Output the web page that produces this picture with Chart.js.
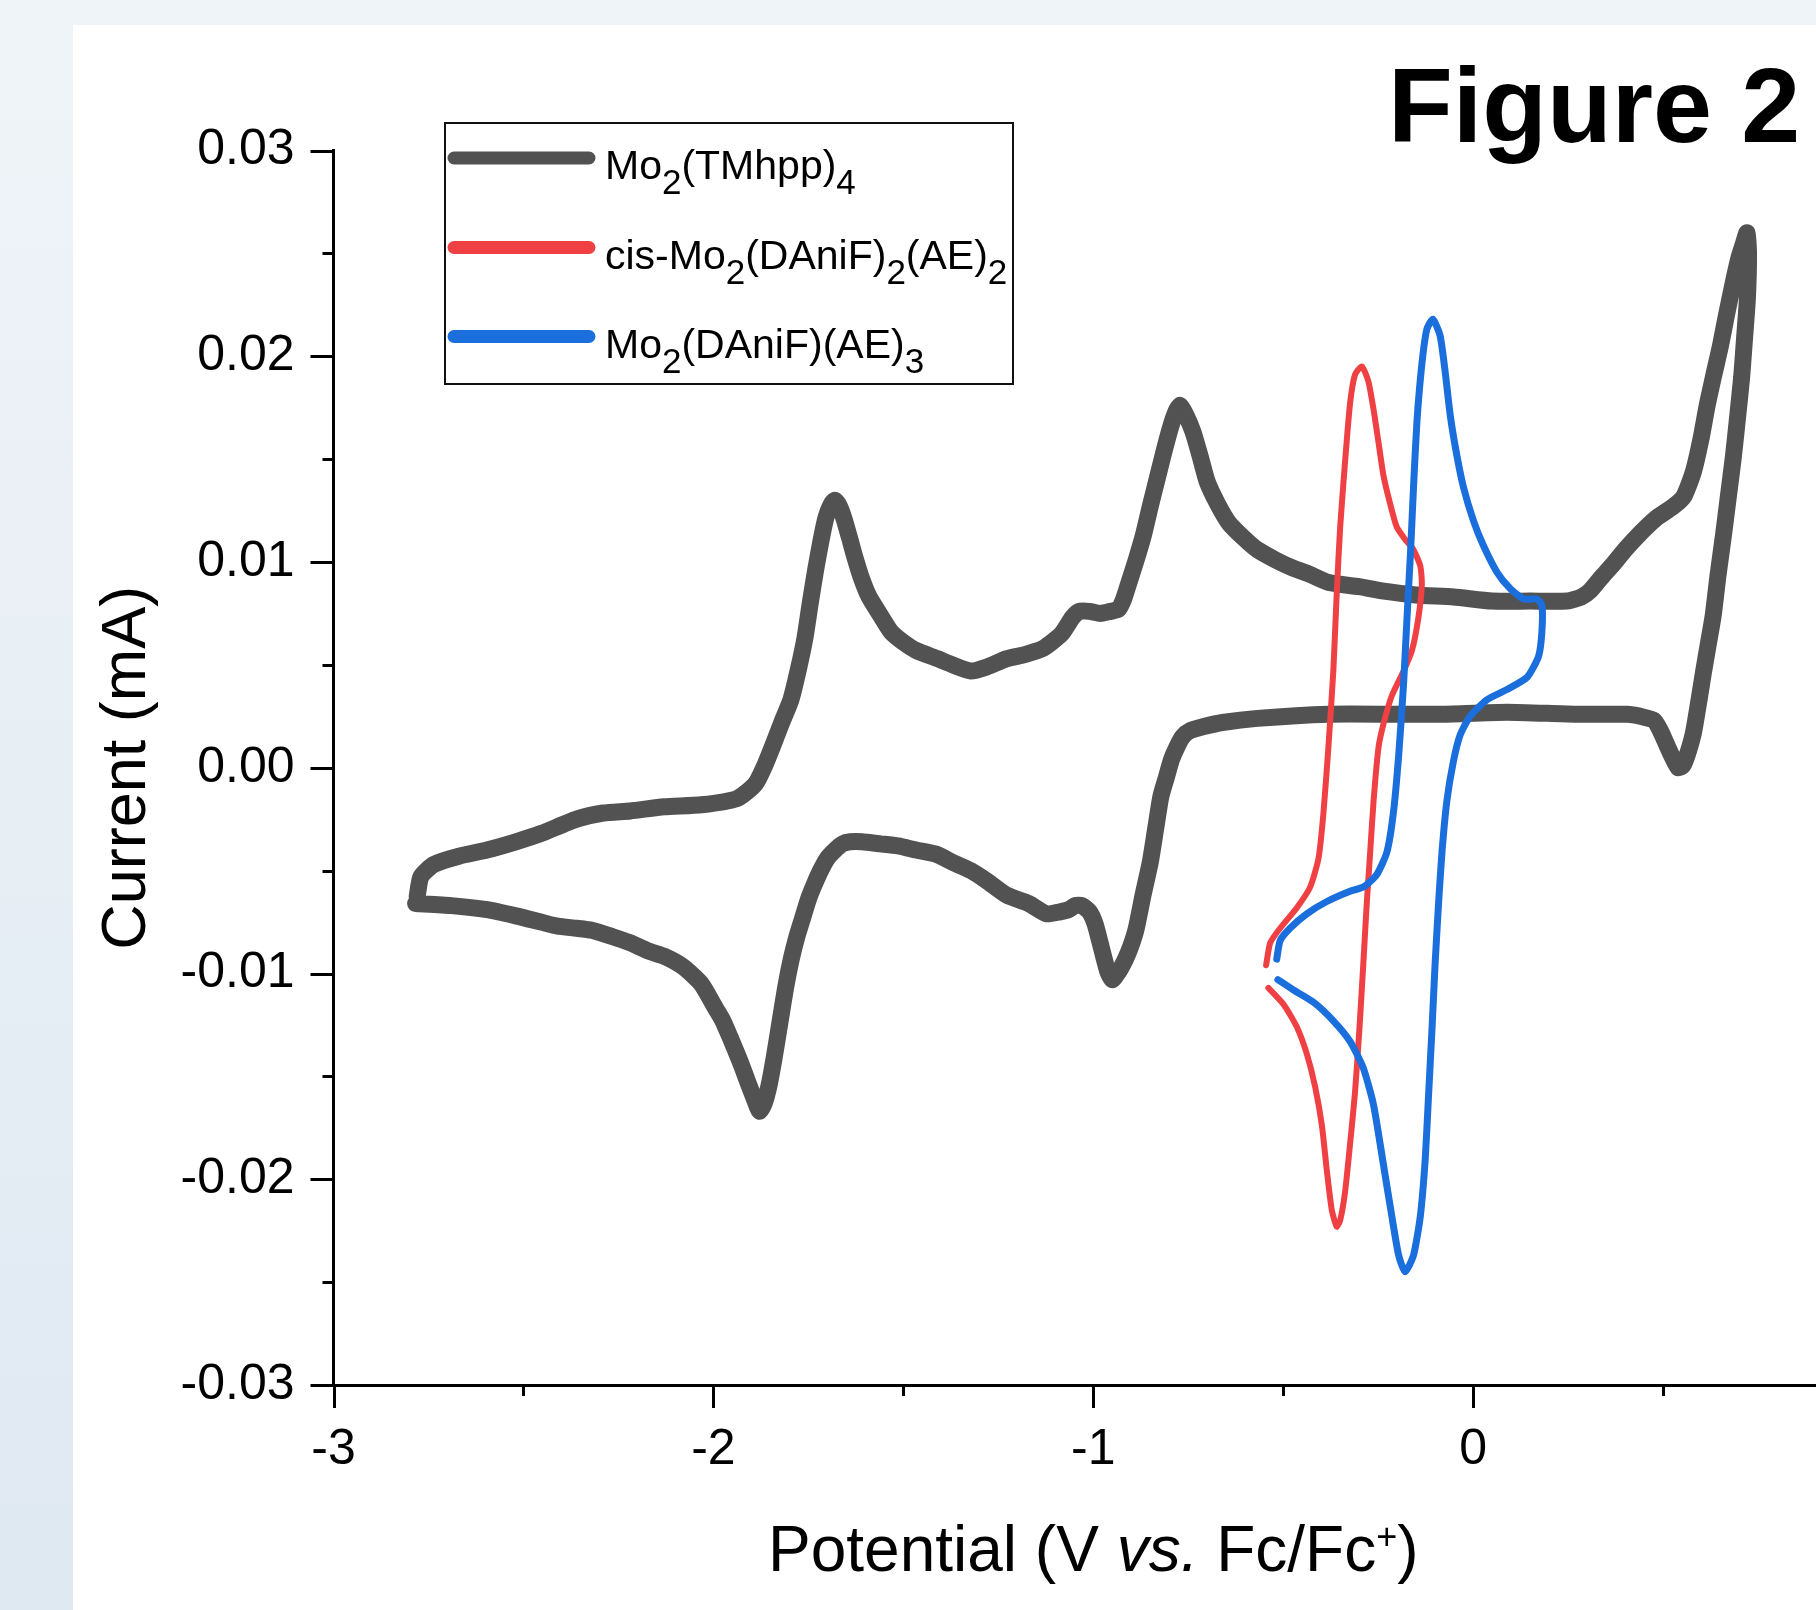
<!DOCTYPE html>
<html>
<head>
<meta charset="utf-8">
<title>Figure 2 — cyclic voltammograms</title>
<script src="https://cdn.jsdelivr.net/npm/chart.js@4.4.1/dist/chart.umd.min.js"></script>
<style>
  html, body { margin: 0; padding: 0; }
  body {
    width: 1816px; height: 1610px; overflow: hidden; position: relative;
    background: linear-gradient(180deg, #eff4f8 0%, #dfe9f2 100%);
    font-family: "Liberation Sans", Arial, sans-serif;
  }
  #panel { position: absolute; left: 73px; top: 25px; width: 1743px; height: 1585px; background: #fff; overflow: hidden; }
  #cv { position: absolute; left: 0; top: 0; display: block; width: 1800px; height: 1585px; }
  #fig { position: absolute; left: 1315px; top: 27px; font: bold 106px/1 "Liberation Sans", Arial, sans-serif; color: #000; white-space: nowrap; }
</style>
</head>
<body>
<div id="panel">
  <canvas id="cv" width="1800" height="1585"></canvas>
  <div id="fig">Figure 2</div>
</div>
<script>
// ── Data: [potential (V vs Fc/Fc+), current (mA)] ─────────────
const grayForward = [
  [-2.780,-0.0063],[-2.770,-0.0053],[-2.736,-0.0047],[-2.670,-0.0043],[-2.596,-0.0040],[-2.520,-0.0036],
  [-2.454,-0.0032],[-2.360,-0.0025],[-2.290,-0.0022],[-2.219,-0.0021],[-2.130,-0.0019],[-2.031,-0.0018],
  [-1.938,-0.0015],[-1.890,-0.0008],[-1.865,0.0001],[-1.843,0.0011],[-1.820,0.0022],[-1.796,0.0033],
  [-1.776,0.0048],[-1.759,0.0063],[-1.745,0.0080],[-1.730,0.0097],[-1.715,0.0112],[-1.703,0.0122],
  [-1.690,0.0128],[-1.680,0.0130],[-1.668,0.0127],[-1.656,0.0121],[-1.642,0.0112],[-1.627,0.0102],
  [-1.610,0.0092],[-1.590,0.0083],[-1.560,0.0074],[-1.532,0.0066],[-1.500,0.0061],[-1.466,0.0057],
  [-1.410,0.0053],[-1.370,0.0050],[-1.322,0.0047],[-1.280,0.0049],[-1.227,0.0053],[-1.180,0.0055],
  [-1.132,0.0058],[-1.084,0.0065],[-1.055,0.0073],[-1.038,0.0076],[-1.010,0.0076],[-0.982,0.0075],
  [-0.955,0.0076],[-0.934,0.0077],[-0.920,0.0082],[-0.906,0.0090],[-0.887,0.0101],[-0.868,0.0113],
  [-0.850,0.0127],[-0.831,0.0141],[-0.812,0.0155],[-0.794,0.0167],[-0.780,0.0174],[-0.771,0.0176],
  [-0.755,0.0171],[-0.737,0.0163],[-0.718,0.0151],[-0.700,0.0139],[-0.672,0.0128],[-0.643,0.0119],
  [-0.600,0.0111],[-0.568,0.0106],[-0.520,0.0101],[-0.474,0.0097],[-0.430,0.0094],[-0.380,0.0090],
  [-0.300,0.0088],[-0.240,0.0086],[-0.150,0.0084],[-0.051,0.0083],[0.050,0.0081],[0.150,0.0081],
  [0.247,0.0081],[0.285,0.0083],[0.308,0.0086],[0.340,0.0093],[0.369,0.0099],[0.400,0.0106],
  [0.440,0.0114],[0.480,0.0121],[0.527,0.0127],[0.555,0.0132],[0.580,0.0144],[0.600,0.0160],
  [0.616,0.0176],[0.635,0.0192],[0.651,0.0205],[0.668,0.0221],[0.685,0.0236],[0.700,0.0248],
  [0.712,0.0255],[0.721,0.0260]
];
const grayReverse = [
  [0.725,0.0250],[0.722,0.0228],[0.715,0.0210],[0.707,0.0190],[0.696,0.0170],[0.685,0.0151],
  [0.672,0.0132],[0.659,0.0113],[0.645,0.0094],[0.632,0.0074],[0.619,0.0060],[0.606,0.0046],
  [0.593,0.0031],[0.580,0.0017],[0.565,0.0007],[0.552,0.0001],[0.540,0.0000],[0.525,0.0005],
  [0.510,0.0011],[0.493,0.0018],[0.476,0.0023],[0.440,0.0025],[0.406,0.0026],[0.266,0.0026],
  [0.090,0.0027],[-0.088,0.0026],[-0.200,0.0026],[-0.380,0.0026],[-0.568,0.0024],[-0.660,0.0022],
  [-0.709,0.0020],[-0.745,0.0018],[-0.765,0.0015],[-0.780,0.0010],[-0.794,0.0004],[-0.808,-0.0005],
  [-0.822,-0.0014],[-0.836,-0.0030],[-0.850,-0.0046],[-0.869,-0.0062],[-0.888,-0.0079],[-0.908,-0.0090],
  [-0.926,-0.0097],[-0.940,-0.0101],[-0.950,-0.0103],[-0.962,-0.0099],[-0.982,-0.0085],[-0.995,-0.0076],
  [-1.010,-0.0070],[-1.030,-0.0067],[-1.048,-0.0067],[-1.065,-0.0069],[-1.087,-0.0070],[-1.123,-0.0071],
  [-1.170,-0.0066],[-1.227,-0.0062],[-1.280,-0.0055],[-1.322,-0.0050],[-1.370,-0.0046],[-1.414,-0.0042],
  [-1.466,-0.0040],[-1.514,-0.0038],[-1.560,-0.0037],[-1.609,-0.0036],[-1.640,-0.0036],[-1.660,-0.0037],
  [-1.680,-0.0040],[-1.700,-0.0044],[-1.718,-0.0050],[-1.735,-0.0057],[-1.750,-0.0064],[-1.765,-0.0073],
  [-1.780,-0.0082],[-1.795,-0.0093],[-1.810,-0.0107],[-1.825,-0.0124],[-1.840,-0.0141],[-1.853,-0.0154],
  [-1.866,-0.0163],[-1.878,-0.0167],[-1.890,-0.0162],[-1.909,-0.0153],[-1.925,-0.0145],[-1.938,-0.0139],
  [-1.956,-0.0131],[-1.975,-0.0123],[-1.994,-0.0117],[-2.032,-0.0105],[-2.078,-0.0097],[-2.125,-0.0092],
  [-2.172,-0.0089],[-2.220,-0.0085],[-2.267,-0.0082],[-2.320,-0.0079],[-2.360,-0.0078],[-2.410,-0.0077],
  [-2.454,-0.0075],[-2.520,-0.0072],[-2.596,-0.0069],[-2.690,-0.0067],[-2.784,-0.0066]
];
const redForward = [
  [-0.545,-0.0096],[-0.534,-0.0085],[-0.508,-0.0078],[-0.464,-0.0068],[-0.429,-0.0058],[-0.407,-0.0044],
  [-0.394,-0.0022],[-0.381,0.0010],[-0.368,0.0047],[-0.359,0.0085],[-0.350,0.0117],[-0.337,0.0149],
  [-0.324,0.0177],[-0.311,0.0191],[-0.293,0.0195],[-0.276,0.0188],[-0.262,0.0174],[-0.249,0.0158],
  [-0.236,0.0142],[-0.218,0.0128],[-0.201,0.0117],[-0.179,0.0111],[-0.157,0.0106],[-0.139,0.0098],
  [-0.135,0.0089]
];
const redReverse = [
  [-0.144,0.0073],[-0.161,0.0057],[-0.183,0.0047],[-0.214,0.0035],[-0.235,0.0022],[-0.249,0.0010],
  [-0.262,-0.0016],[-0.271,-0.0041],[-0.280,-0.0066],[-0.289,-0.0095],[-0.299,-0.0126],[-0.311,-0.0158],
  [-0.324,-0.0183],[-0.337,-0.0206],[-0.350,-0.0220],[-0.359,-0.0223],[-0.372,-0.0215],[-0.385,-0.0196],
  [-0.398,-0.0174],[-0.416,-0.0155],[-0.438,-0.0139],[-0.464,-0.0126],[-0.499,-0.0115],[-0.539,-0.0107]
];
const blueForward = [
  [-0.517,-0.0093],[-0.508,-0.0084],[-0.482,-0.0078],[-0.438,-0.0071],[-0.385,-0.0065],[-0.324,-0.0060],
  [-0.289,-0.0058],[-0.254,-0.0052],[-0.227,-0.0041],[-0.210,-0.0022],[-0.196,0.0006],[-0.183,0.0041],
  [-0.174,0.0073],[-0.165,0.0104],[-0.157,0.0136],[-0.148,0.0168],[-0.135,0.0196],[-0.122,0.0213],
  [-0.106,0.0218],[-0.087,0.0210],[-0.074,0.0193],[-0.060,0.0171],[-0.043,0.0152],[-0.025,0.0136],
  [0.001,0.0120],[0.027,0.0108],[0.063,0.0095],[0.098,0.0087],[0.133,0.0082],[0.168,0.0082],
  [0.181,0.0079]
];
const blueReverse = [
  [0.181,0.0066],[0.172,0.0054],[0.142,0.0044],[0.089,0.0038],[0.036,0.0033],[-0.008,0.0025],
  [-0.034,0.0016],[-0.052,0.0003],[-0.069,-0.0016],[-0.082,-0.0041],[-0.091,-0.0066],[-0.100,-0.0095],
  [-0.108,-0.0126],[-0.117,-0.0158],[-0.126,-0.0190],[-0.139,-0.0218],[-0.157,-0.0237],[-0.179,-0.0245],
  [-0.196,-0.0237],[-0.214,-0.0218],[-0.236,-0.0193],[-0.262,-0.0164],[-0.289,-0.0146],[-0.324,-0.0133],
  [-0.368,-0.0123],[-0.420,-0.0114],[-0.473,-0.0108],[-0.514,-0.0103]
];

// legend text: [text, isSubscript]
const grayName = [["Mo",0],["2",1],["(TMhpp)",0],["4",1]];
const redName  = [["cis-Mo",0],["2",1],["(DAniF)",0],["2",1],["(AE)",0],["2",1]];
const blueName = [["Mo",0],["2",1],["(DAniF)(AE)",0],["3",1]];
const xTitle   = [["Potential (V ",""],["vs.","italic"],[" Fc/Fc",""],["+","sup"],[")",""]];

const FONT = '"Liberation Sans", Arial, sans-serif';
const toPts = arr => arr.map(p => ({ x: p[0], y: p[1] }));

function isCent(v) { return Math.abs(v * 100 - Math.round(v * 100)) < 1e-6; }

// ── Tick marks: long on labelled values, short in between ──────
const tickMarks = {
  id: "tickMarks",
  afterDraw(chart) {
    const { ctx, chartArea: a, scales: { x, y } } = chart;
    ctx.save();
    ctx.strokeStyle = "#000";
    ctx.lineWidth = 3;
    ctx.beginPath();
    x.ticks.forEach(t => {
      const px = Math.round(x.getPixelForValue(t.value)) + 0.5;
      const len = Number.isInteger(t.value) ? 23 : 11;
      ctx.moveTo(px, a.bottom); ctx.lineTo(px, a.bottom + len);
    });
    y.ticks.forEach(t => {
      const py = Math.round(y.getPixelForValue(t.value)) + 0.5;
      const len = isCent(t.value) ? 23 : 11;
      ctx.moveTo(a.left, py); ctx.lineTo(a.left - len, py);
    });
    ctx.stroke();
    ctx.restore();
  }
};

function drawRich(ctx, parts, x, y, size, subSize) {
  parts.forEach(([t, sub]) => {
    ctx.font = (sub ? subSize : size) + "px " + FONT;
    ctx.fillText(t, x, y + (sub ? 15 : 0));
    x += ctx.measureText(t).width;
  });
}

// ── Framed legend with subscripts ──────────────────────────────
const legendBox = {
  id: "legendBox",
  afterDraw(chart) {
    const { ctx } = chart;
    const box = { x: 372, y: 98, w: 568, h: 261 };
    ctx.save();
    ctx.fillStyle = "#fff";
    ctx.fillRect(box.x, box.y, box.w, box.h);
    ctx.strokeStyle = "#111";
    ctx.lineWidth = 2;
    ctx.strokeRect(box.x, box.y, box.w, box.h);
    const rows = [grayName, redName, blueName];
    const rowY = [133, 222.5, 311.5];
    rows.forEach((parts, i) => {
      const ds = chart.data.datasets[i];
      ctx.strokeStyle = ds.borderColor;
      ctx.lineWidth = 13;
      ctx.lineCap = "round";
      ctx.beginPath();
      ctx.moveTo(381, rowY[i]); ctx.lineTo(516, rowY[i]);
      ctx.stroke();
      ctx.fillStyle = "#000";
      ctx.textBaseline = "alphabetic";
      drawRich(ctx, parts, 532, rowY[i] + 21, 41, 35);
    });
    ctx.restore();
  }
};

// ── X axis title with italic "vs." and superscript + ──────────
const xAxisTitle = {
  id: "xAxisTitle",
  afterDraw(chart) {
    const { ctx, chartArea: a } = chart;
    const fontFor = s => s === "italic" ? "italic 64px " + FONT : s === "sup" ? "36px " + FONT : "64px " + FONT;
    ctx.save();
    ctx.fillStyle = "#000";
    ctx.textBaseline = "alphabetic";
    let total = 0;
    xTitle.forEach(([t, s]) => { ctx.font = fontFor(s); total += ctx.measureText(t).width; });
    let x = (a.left + a.right) / 2 - total / 2;
    const base = a.bottom + 186;
    xTitle.forEach(([t, s]) => {
      ctx.font = fontFor(s);
      ctx.fillText(t, x, base - (s === "sup" ? 22 : 0));
      x += ctx.measureText(t).width;
    });
    ctx.restore();
  }
};

const line = (data, color, width, order) => ({
  data: toPts(data), showLine: true, borderColor: color, backgroundColor: color,
  borderWidth: width, pointRadius: 0, tension: 0.2, order,
  borderJoinStyle: "round", borderCapStyle: "round", fill: false
});

new Chart(document.getElementById("cv").getContext("2d"), {
  type: "scatter",
  data: {
    datasets: [
      { label: "Mo2(TMhpp)4", ...line(grayForward.concat(grayReverse), "#525252", 17, 3) },
      { label: "cis-Mo2(DAniF)2(AE)2", ...line(redForward.concat(redReverse), "#EF4043", 6, 2) },
      { label: "Mo2(DAniF)(AE)3", ...line(blueForward.concat(blueReverse), "#1A6FDC", 7, 1) }
    ]
  },
  options: {
    responsive: false,
    animation: false,
    events: [],
    layout: { autoPadding: false, padding: { left: 0, top: 125.5, right: 20, bottom: 0 } },
    plugins: { legend: { display: false }, tooltip: { enabled: false } },
    scales: {
      x: {
        type: "linear", min: -3, max: 1,
        afterFit: s => { s.height = 225; s.paddingLeft = 0; s.paddingRight = 0; },
        grid: { display: false },
        border: { color: "#000", width: 3 },
        ticks: {
          stepSize: 0.5, autoSkip: false, maxRotation: 0, padding: 27, color: "#000",
          font: { family: FONT, size: 50 },
          callback: v => Number.isInteger(v) ? String(v) : ""
        }
      },
      y: {
        type: "linear", min: -0.03, max: 0.03,
        afterFit: s => { s.width = 260.5; },
        grid: { display: false },
        border: { color: "#000", width: 3 },
        ticks: {
          stepSize: 0.005, autoSkip: false, padding: 31, color: "#000",
          font: { family: FONT, size: 50 },
          callback: v => isCent(v) ? v.toFixed(2) : ""
        },
        title: {
          display: true, text: "Current (mA)", color: "#000",
          font: { family: FONT, size: 63 }, padding: { top: 17, bottom: 0 }
        }
      }
    }
  },
  plugins: [tickMarks, legendBox, xAxisTitle]
});
</script>
</body>
</html>
